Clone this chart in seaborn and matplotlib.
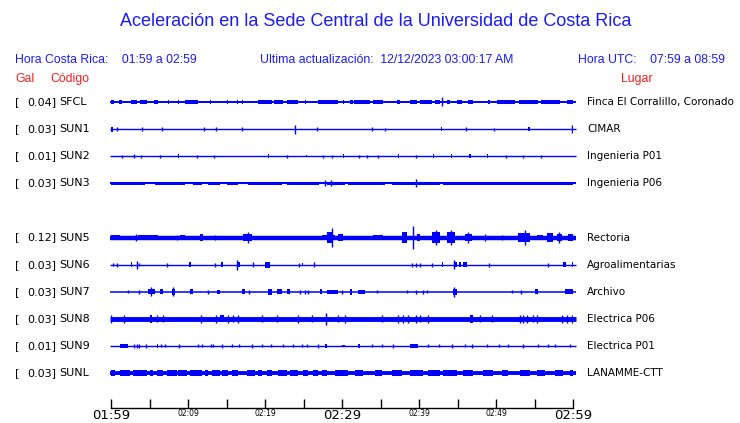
import matplotlib
matplotlib.use("Agg")
import matplotlib.pyplot as plt
import numpy as np
import pandas as pd
import seaborn as sns


# Station info (top to bottom)
codes = ["SFCL", "SUN1", "SUN2", "SUN3", "SUN5", "SUN6", "SUN7", "SUN8", "SUN9", "SUNL"]
places = ["Finca El Corralillo, Coronado", "CIMAR", "Ingenieria P01", "Ingenieria P06",
          "Rectoria", "Agroalimentarias", "Archivo", "Electrica P06", "Electrica P01",
          "LANAMME-CTT"]
peak_gal = [0.04, 0.03, 0.01, 0.03, 0.12, 0.03, 0.03, 0.03, 0.01, 0.03]
rows = [0, 1, 2, 3, 5, 6, 7, 8, 9, 10]

# Bursts: (start min, end min, half amplitude); start == end is a spike
ev_sfcl = [(0, 0.4, 2), (1.1, 1.4, 2), (2.6, 3.4, 2), (3.8, 4.7, 2.5), (5.6, 6.1, 2),
           (7.4, 7.5, 2), (8.7, 8.8, 2), (9.6, 11.3, 2.5), (12.9, 13.0, 2), (15.1, 15.2, 2),
           (16.4, 16.5, 2), (17.0, 17.1, 2), (19.1, 20.9, 2.5), (21.2, 22.3, 2),
           (22.9, 24.3, 2.5), (25.2, 25.3, 2), (26.9, 29.5, 2), (30.1, 30.2, 2),
           (31.0, 31.4, 2), (31.6, 33.6, 2), (34.0, 35.3, 2.5), (37.1, 37.5, 2),
           (38.8, 39.7, 2), (40.1, 41.7, 2.5), (42.1, 42.7, 2), (43.0, 43.0, 4.5),
           (43.6, 44.0, 2), (44.9, 45.6, 2), (46.4, 47.0, 2), (49.0, 49.2, 2),
           (50.1, 52.5, 2.5), (53.0, 55.5, 2.5), (55.8, 58.3, 2.5), (59.2, 60, 2)]
ev_sun1 = [(0, 0.3, 3), (0.8, 0.8, 2), (4.0, 4.0, 2), (6.6, 6.6, 2), (12.1, 12.1, 2),
           (13.6, 13.6, 2), (17.0, 17.0, 2), (23.9, 23.9, 4.5), (26.8, 26.8, 2),
           (33.9, 33.9, 2), (35.6, 35.6, 1.5), (42.8, 43.0, 2), (46.1, 46.1, 2),
           (49.7, 49.7, 1.5), (54.2, 54.4, 2.5), (59.9, 59.9, 4)]
ev_sun2 = [(1.4, 1.4, 1.5), (3.0, 3.0, 2), (3.9, 3.9, 1.5), (6.4, 6.4, 1.5), (8.7, 8.8, 2),
           (11.2, 11.2, 1.5), (13.4, 13.4, 1.5), (15.8, 15.9, 2), (20.4, 20.5, 2),
           (22.9, 22.9, 1.5), (25.3, 25.5, 1.5), (27.5, 27.5, 1.5), (28.7, 28.7, 1.5),
           (30.1, 30.2, 2), (32.2, 32.2, 1.5), (33.2, 33.2, 1.5), (34.7, 34.7, 1.5),
           (37.3, 37.4, 2), (39.6, 39.6, 1.5), (41.8, 41.9, 2), (44.2, 44.3, 2),
           (46.5, 46.7, 2.5), (48.8, 48.9, 2), (51.3, 51.3, 1.5), (53.5, 53.5, 1.5),
           (55.8, 55.8, 1.5)]
ev_sun3 = [(0, 4.4, 1.6), (5.7, 9.6, 1.6), (10.6, 11.8, 1.6), (12.6, 14.2, 1.6),
           (15.1, 16.5, 1.6), (17.8, 22.2, 1.6), (22.9, 27.0, 1.6), (28.0, 30.4, 1.6),
           (27.8, 27.8, 3), (28.6, 28.6, 3), (30.8, 35.6, 1.6), (36.5, 42.7, 1.6),
           (39.6, 39.6, 4), (43.1, 60, 1.6)]
ev_sun5 = [(0, 1.2, 3), (3.2, 3.2, 4), (3.5, 6.1, 2.5), (8.6, 8.6, 3), (9.0, 9.6, 3.5),
           (11.6, 11.9, 4), (13.5, 13.5, 3), (17.1, 18.3, 4), (17.8, 17.8, 6),
           (27.4, 29.1, 3.5), (28.1, 28.8, 6), (28.7, 28.7, 9), (29.5, 30.1, 4),
           (34.0, 35.3, 2.5), (37.8, 38.4, 6), (39.2, 39.2, 11), (39.7, 40.1, 4),
           (41.7, 42.7, 6), (42.2, 42.2, 7.5), (43.6, 44.7, 6), (44.1, 44.1, 7.5),
           (46.0, 46.9, 4), (46.4, 46.4, 5.5), (48.6, 48.6, 4), (50.8, 50.8, 3),
           (52.9, 54.4, 5), (53.8, 53.8, 8), (55.3, 56.1, 3), (56.6, 57.4, 5),
           (57.9, 58.6, 4), (58.2, 58.2, 6), (59.4, 60, 4)]
ev_sun6 = [(0.3, 0.3, 1.5), (0.8, 0.8, 2), (2.6, 2.7, 2.5), (3.4, 3.4, 4), (3.6, 3.6, 1.5),
           (7.3, 7.3, 2), (10.1, 10.4, 2.5), (13.5, 13.5, 2), (14.3, 14.5, 3),
           (16.4, 16.8, 3), (16.3, 16.3, 5), (18.4, 18.4, 2.5), (20.0, 20.6, 3.5),
           (24.4, 24.4, 2), (24.8, 24.9, 2), (26.4, 26.4, 2.5), (39.1, 39.1, 2),
           (39.6, 39.6, 2), (40.1, 40.1, 2), (41.7, 41.7, 2), (43.0, 43.1, 3),
           (44.5, 44.9, 3), (44.5, 44.5, 4.5), (45.2, 45.5, 2.5), (45.7, 46.2, 3),
           (49.1, 49.1, 2), (56.8, 56.8, 2), (58.7, 59.1, 2.5), (59.9, 60, 2.5)]
ev_sun7 = [(2.2, 2.2, 1.5), (3.6, 3.6, 2), (4.8, 5.7, 3), (5.2, 5.2, 4.5), (6.4, 6.8, 3),
           (7.9, 8.3, 3.5), (8.1, 8.1, 4.5), (10.3, 10.6, 3), (12.6, 12.6, 2),
           (13.8, 14.2, 2.5), (17.0, 17.4, 3), (17.9, 17.9, 2), (20.4, 20.9, 3.5),
           (21.6, 22.2, 3), (22.9, 23.2, 3), (24.5, 24.5, 2), (25.2, 25.2, 2),
           (25.6, 25.6, 2), (27.1, 27.4, 3), (28.1, 29.5, 2.5), (30.0, 30.0, 2),
           (31.0, 31.3, 3.5), (32.1, 33.0, 2.5), (34.5, 34.5, 1.5), (38.4, 38.4, 1.5),
           (39.6, 39.6, 2), (40.5, 40.5, 2), (41.0, 41.0, 1.5), (44.4, 44.9, 3.5),
           (44.6, 44.6, 5), (52.1, 52.1, 1.5), (53.2, 53.2, 2), (55.1, 55.5, 3),
           (59.0, 60, 3)]
ev_sun8 = [(0, 0, 4), (1.7, 1.7, 4), (5.1, 5.3, 4.5), (6.0, 6.0, 3.5), (6.8, 6.8, 3.5),
           (11.7, 11.7, 4), (13.6, 13.6, 4), (14.2, 14.7, 4), (15.2, 15.2, 4),
           (15.8, 15.8, 3.5), (16.5, 16.5, 4), (19.6, 19.6, 3.5), (21.6, 21.6, 3.5),
           (24.3, 24.3, 4), (26.1, 26.1, 3.5), (27.9, 27.9, 6), (29.5, 29.5, 3.5),
           (30.4, 30.4, 4), (35.2, 35.2, 3.5), (37.3, 37.3, 4), (37.9, 37.9, 4),
           (38.6, 38.6, 4), (39.6, 39.6, 4), (40.1, 40.1, 3.5), (41.2, 41.2, 4),
           (46.6, 47.0, 4.5), (47.9, 47.9, 3.5), (49.5, 49.5, 3.5), (53.1, 53.1, 4),
           (53.5, 53.5, 4), (54.0, 54.0, 4), (54.8, 54.8, 3.5), (55.3, 55.3, 4),
           (58.6, 58.6, 4), (59.2, 59.2, 4), (59.9, 59.9, 4)]
ev_sun9 = [(1.2, 2.2, 2), (3.0, 3.0, 2), (3.4, 3.4, 2), (3.6, 3.6, 2), (4.6, 4.6, 2),
           (6.0, 6.1, 2), (6.5, 6.5, 1.5), (7.0, 7.0, 1.5), (8.8, 8.8, 2),
           (11.3, 11.3, 1.5), (11.8, 11.8, 1.5), (13.0, 13.0, 1.5), (13.2, 13.2, 1.5),
           (14.4, 14.4, 2), (15.7, 15.7, 1.5), (16.6, 16.6, 1.5), (18.3, 18.3, 2),
           (19.6, 19.6, 1.5), (20.8, 20.8, 1.5), (22.4, 22.4, 1.5), (23.6, 23.6, 1.5),
           (24.8, 24.8, 1.5), (25.5, 25.5, 1.5), (26.9, 26.9, 2), (27.8, 28.1, 2),
           (30.0, 30.4, 1.5), (32.1, 32.4, 2), (33.9, 33.9, 1.5), (35.2, 35.2, 1.5),
           (36.6, 36.6, 2), (38.8, 39.9, 2.5), (41.2, 41.2, 1.5), (42.6, 42.6, 1.5),
           (44.3, 44.3, 2), (46.0, 46.0, 1.5), (46.9, 46.9, 2), (48.8, 48.8, 1.5),
           (50.4, 50.4, 1.5), (51.6, 51.6, 1.5), (53.5, 53.5, 2), (55.5, 55.5, 1.5),
           (56.8, 56.8, 1.5), (57.7, 57.7, 1.5), (59.6, 59.6, 1.5)]
ev_sunl = [(0, 0.5, 3.5), (1.2, 2.5, 3.5), (2.9, 4.7, 3.5), (5.1, 5.5, 3), (6.0, 6.8, 4),
           (7.3, 8.6, 3.5), (8.7, 9.9, 3.5), (10.3, 11.8, 3.5), (12.2, 12.6, 3),
           (13.1, 14.2, 3.5), (14.4, 15.2, 3.5), (15.7, 16.5, 3), (17.7, 18.7, 3.5),
           (19.1, 19.6, 3), (20.3, 20.9, 4), (21.7, 22.9, 3.5), (23.2, 24.3, 3.5),
           (24.9, 25.6, 3), (26.2, 26.9, 3.5), (27.4, 28.1, 3.5), (29.1, 30.8, 3.5),
           (31.7, 32.7, 3.5), (34.3, 35.2, 3.5), (36.5, 37.8, 3.5), (38.8, 40.5, 3.5),
           (41.2, 42.7, 3.5), (43.1, 44.9, 3.5), (45.7, 47.0, 3.5), (48.3, 49.6, 3.5),
           (50.8, 51.6, 3), (53.1, 54.4, 3.5), (55.3, 56.4, 3.5), (57.7, 58.7, 3.5),
           (59.6, 60, 3.5)]
events = [ev_sfcl, ev_sun1, ev_sun2, ev_sun3, ev_sun5, ev_sun6, ev_sun7, ev_sun8, ev_sun9, ev_sunl]

# Time axis: minutes after 01:59
tick_min = [0, 10, 20, 30, 40, 50, 60]
tick_labels = ["01:59", "02:09", "02:19", "02:29", "02:39", "02:49", "02:59"]
minor_min = [5, 15, 25, 35, 45, 55]

title = "Aceleración en la Sede Central de la Universidad de Costa Rica"
hora_cr = "Hora Costa Rica:    01:59 a 02:59"
ultima = "Ultima actualización:  12/12/2023 03:00:17 AM"
hora_utc = "Hora UTC:    07:59 a 08:59"

# per-trace baseline thickness in points
base_lw = [1.4, 1.0, 1.0, 1.5, 3.2, 1.0, 1.1, 3.5, 1.0, 2.8]

sns.set_theme(style="white")
plt.rcParams["font.family"] = ["DejaVu Sans"]

W, H = 740, 423
fig = plt.figure(figsize=(W / 100, H / 100), dpi=100)
ax_left, ax_right, ax_bot, ax_top = 111, 573, 408, 88
ax = fig.add_axes([ax_left / W, 1 - ax_bot / H, (ax_right - ax_left) / W, (ax_bot - ax_top) / H])
row_px = 27.1
ax.set_xlim(0, 60)
ax.set_ylim((ax_bot - 102) / row_px, -(102 - ax_top) / row_px)

blue = "#0000ff"
txt_blue = "#1a1aff"
red = "#ff1a1a"

base = pd.DataFrame({"t": [-0.15, 60.35]})
for r, ev, lw in zip(rows, events, base_lw):
    sns.lineplot(data=base.assign(y=r), x="t", y="y", ax=ax, color=blue, lw=lw,
                 clip_on=False, solid_capstyle="butt")
    for t0, t1, a in ev:
        a = a / row_px
        if t1 > t0:
            ax.fill_between([t0, t1], r - 0.85 * a, r + 0.85 * a, color=blue, lw=0)
        else:
            ax.vlines(t0, r - a, r + a, color=blue, lw=1.0)

sns.despine(ax=ax, left=True)
ax.spines["bottom"].set_color("black")
ax.spines["bottom"].set_linewidth(1.0)
ax.set_yticks([])
ax.set_xlabel("")
ax.set_ylabel("")
ax.set_xticks(tick_min)
ax.set_xticks(minor_min, minor=True)
ax.set_xticklabels(tick_labels)
ax.tick_params(axis="x", which="both", direction="in", length=6.5, width=1, color="black",
               bottom=True, pad=1)
for lab, m in zip(ax.get_xticklabels(), tick_min):
    lab.set_fontsize(9.5 if m % 30 == 0 else 5.5)
    lab.set_color("black")

def fx(px):
    return (px - ax_left) / (ax_right - ax_left)

tr = ax.get_yaxis_transform()
for r, g, c, p in zip(rows, peak_gal, codes, places):
    ax.text(fx(15), r, "[", transform=tr, ha="left", va="center", fontsize=8, color="black")
    ax.text(fx(56), r, f"{g:.2f}]", transform=tr, ha="right", va="center", fontsize=8, color="black")
    ax.text(fx(59), r, c, transform=tr, ha="left", va="center", fontsize=8, color="black")
    ax.text(fx(587), r, p, transform=tr, ha="left", va="center", fontsize=7.5, color="black")

hfont = ["Liberation Sans", "DejaVu Sans"]
fig.text(376 / W, 1 - 22 / H, title, ha="center", va="center", fontsize=13.0, color=txt_blue, family=hfont)
fig.text(15 / W, 1 - 60 / H, hora_cr, ha="left", va="center", fontsize=8.8, color=txt_blue, family=hfont)
fig.text(260 / W, 1 - 60 / H, ultima, ha="left", va="center", fontsize=8.8, color=txt_blue, family=hfont)
fig.text(725 / W, 1 - 60 / H, hora_utc, ha="right", va="center", fontsize=8.8, color=txt_blue, family=hfont)
fig.text(15 / W, 1 - 79 / H, "Gal", ha="left", va="center", fontsize=8.8, color=red, family=hfont)
fig.text(50 / W, 1 - 79 / H, "Código", ha="left", va="center", fontsize=8.8, color=red, family=hfont)
fig.text(637 / W, 1 - 79 / H, "Lugar", ha="center", va="center", fontsize=8.8, color=red, family=hfont)

fig.savefig("out.png", dpi=100, facecolor="white")
